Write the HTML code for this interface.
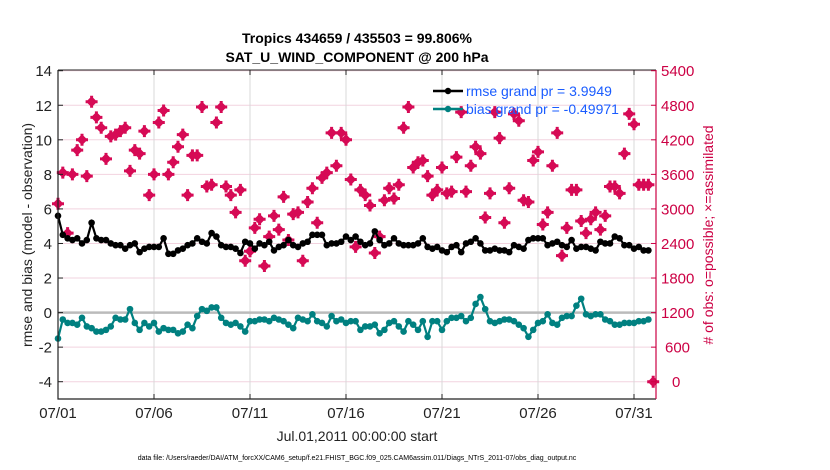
<!DOCTYPE html>
<html><head><meta charset="utf-8"><style>
body{margin:0;background:#fff;}
svg{display:block;font-family:"Liberation Sans",sans-serif;}
</style></head><body>
<svg id="chart" width="830" height="470" viewBox="0 0 830 470" xmlns="http://www.w3.org/2000/svg">
<text x="357" y="43" text-anchor="middle" font-size="14" font-weight="bold">Tropics 434659 / 435503 = 99.806%</text>
<text x="357" y="62" text-anchor="middle" font-size="14" font-weight="bold">SAT_U_WIND_COMPONENT @ 200 hPa</text>
<g id="grid"></g>
<g id="marks"></g>
<g id="axes"></g>
<text transform="translate(32,235) rotate(-90)" text-anchor="middle" font-size="14" fill="#222">rmse and bias (model - observation)</text>
<text transform="translate(713,235) rotate(-90)" text-anchor="middle" font-size="14" fill="#cc0044"># of obs: o=possible; ×=assimilated</text>
<text x="357" y="441" text-anchor="middle" font-size="14" fill="#222">Jul.01,2011 00:00:00 start</text>
<text x="357" y="460" text-anchor="middle" font-size="7" fill="#000">data file: /Users/raeder/DAI/ATM_forcXX/CAM6_setup/f.e21.FHIST_BGC.f09_025.CAM6assim.011/Diags_NTrS_2011-07/obs_diag_output.nc</text>
<g>
<line x1="433" y1="91" x2="463" y2="91" stroke="#000" stroke-width="2.5"/><circle cx="448" cy="91" r="3.2" fill="#000"/>
<text x="466" y="96" font-size="14" fill="#1a5cff">rmse grand pr = 3.9949</text>
<line x1="433" y1="109" x2="463" y2="109" stroke="#008080" stroke-width="2.5"/><circle cx="448" cy="109" r="3.2" fill="#008080"/>
<text x="466" y="114" font-size="14" fill="#1a5cff">bias grand pr = -0.49971</text>
</g>
</svg>
<script>
const rmse=[5.6,4.5,4.3,4.2,4.3,4.0,4.2,5.2,4.3,4.2,4.2,4.0,3.9,3.9,3.7,3.9,4.0,3.5,3.7,3.8,3.8,3.8,4.3,3.4,3.4,3.6,3.7,3.9,4.0,4.3,4.1,
4.0,4.6,4.4,3.9,3.8,3.8,3.7,3.45,4.1,4.0,3.7,4.0,3.9,4.1,3.6,3.8,3.9,4.2,3.9,3.8,4.0,4.1,4.5,4.5,4.5,3.9,4.0,4.0,4.1,4.4,
4.2,4.4,4.1,3.9,4.0,4.7,4.2,3.9,4.0,4.3,4.0,3.9,3.9,3.9,4.0,4.3,3.8,3.7,3.8,3.6,3.5,3.8,3.9,3.5,4.0,4.1,4.3,4.0,3.6,3.6,3.7,
3.6,3.6,3.5,3.9,3.8,3.7,4.2,4.3,4.3,4.3,3.9,4.0,4.1,3.9,3.8,4.2,3.7,3.8,3.8,3.7,3.6,4.1,4.0,4.0,4.4,4.3,3.9,3.9,3.7,3.8,3.6,3.6];
const bias=[-1.5,-0.4,-0.6,-0.6,-0.7,-0.3,-0.8,-0.9,-1.1,-1.1,-1.0,-0.8,-0.3,-0.4,-0.4,0.2,-0.6,-1.0,-0.6,-0.8,-0.6,-1.1,-0.9,-1.0,-1.0,-1.2,-1.1,-0.7,-0.9,-0.2,0.2,
0.1,0.3,0.3,-0.3,-0.6,-0.7,-0.6,-0.8,-1.1,-0.5,-0.5,-0.4,-0.4,-0.5,-0.3,-0.4,-0.5,-0.7,-0.9,-0.3,-0.4,-0.5,-0.1,-0.5,-0.6,-0.8,-0.2,-0.5,-0.4,-0.6,
-0.5,-0.5,-1.0,-0.8,-0.8,-0.7,-1.2,-1.0,-0.6,-0.5,-0.8,-1.1,-0.5,-0.7,-1.0,-0.5,-1.4,-0.5,-0.5,-1.0,-0.5,-0.3,-0.3,-0.2,-0.5,-0.3,0.5,0.9,0.2,-0.5,-0.6,
-0.5,-0.4,-0.4,-0.5,-0.7,-0.9,-1.4,-1.0,-0.6,-0.5,-0.1,-0.6,-0.7,-0.3,-0.2,-0.2,0.4,0.8,-0.1,-0.2,-0.1,-0.1,-0.4,-0.5,-0.7,-0.7,-0.6,-0.6,-0.6,-0.5,-0.5,-0.4];
const obsCount=[3090,3630,2580,3600,4020,4200,3570,4860,4590,4410,3870,4260,4290,4350,4410,3660,4020,3960,4350,3240,3600,4500,4710,3600,3810,4080,4290,3240,3930,3930,
4770,3390,3420,4500,4770,3390,3240,2940,3330,2100,2265,2670,2820,2010,2520,2880,2640,3210,2460,2910,2940,2100,3120,3360,2760,3540,3630,4320,3750,4320,
4200,3510,2340,3330,3240,3060,2235,2520,3150,3360,3180,3420,4410,4770,3720,3810,3840,3570,3240,3330,3720,3270,3300,3900,4680,3300,3750,4080,3960,2850,
3270,4680,4230,2760,3360,4650,4530,3150,3120,3840,3990,2730,2940,3750,4320,2190,2670,3330,3330,2790,2580,2820,2940,2640,2880,3390,3390,3270,3960,4650,
4470,3420,3420,3420,0];
const xTickLabels=["07/01","07/06","07/11","07/16","07/21","07/26","07/31"];
const leftTicks=[-4,-2,0,2,4,6,8,10,12,14];
const rightTicks=[0,600,1200,1800,2400,3000,3600,4200,4800,5400];
const NS="http://www.w3.org/2000/svg";
const L=58,R=656,T=70.7,B=381.7;
const dayPx=19.2;
const xDay=d=>L+d*dayPx;
const xIdx=i=>xDay(i*0.25);
const yL=v=>B-(v+4)*(B-T)/18;
const yR=c=>yL(c/300-4);
function mk(tag,attrs,parent){const e=document.createElementNS(NS,tag);for(const k in attrs)e.setAttribute(k,attrs[k]);parent.appendChild(e);return e;}
const gridG=document.getElementById('grid'),marksG=document.getElementById('marks'),axesG=document.getElementById('axes');
leftTicks.forEach(v=>{const l=mk('line',{x1:L,x2:R,y1:yL(v),y2:yL(v),stroke:'#f2d3df','stroke-width':1},gridG);

});
xTickLabels.forEach((t,k)=>{const x=xDay(k*5);const l=mk('line',{x1:x,x2:x,y1:70,y2:399,stroke:'#d8d8d8','stroke-width':1},gridG);

});
const zl=mk('line',{x1:L,x2:R,y1:yL(0),y2:yL(0),stroke:'#bbb','stroke-width':2.5},gridG);


obsCount.forEach((c,i)=>{const x=xIdx(i),y=yR(c);const g=mk('path',{d:`M${x-5.5},${y}L${x},${y-5.5}L${x+5.5},${y}L${x},${y+5.5}Z M${x-6},${y-1.5}h12v3h-12Z M${x-1.5},${y-6}h3v12h-3Z`,fill:'#d60a55'},marksG);

});
function series(arr,color,name){const pts=arr.map((v,i)=>xIdx(i)+','+yL(v)).join(' ');
const pl=mk('polyline',{points:pts,fill:'none',stroke:color,'stroke-width':2.2},marksG);


arr.forEach((v,i)=>{const c=mk('circle',{cx:xIdx(i),cy:yL(v),r:3.3,fill:color},marksG);

});}
series(rmse,'#000','rmse');
series(bias,'#008080','bias');
const frame=mk('path',{d:`M${L},70V399H${R}`,fill:'none',stroke:'#222','stroke-width':1.2},axesG);


const topBorder=mk('line',{x1:L,x2:R,y1:70,y2:70,stroke:'#222','stroke-width':1},axesG);


const ra=mk('line',{x1:R,x2:R,y1:70,y2:399,stroke:'#cc0044','stroke-width':1.2},axesG);


leftTicks.forEach(v=>{const y=yL(v);mk('line',{x1:L,x2:L+5,y1:y,y2:y,stroke:'#222'},axesG);
const t=mk('text',{x:L-6,y:y+5.5,'text-anchor':'end','font-size':15,fill:'#222'},axesG);t.textContent=v;

});
rightTicks.forEach(c=>{const y=yR(c);mk('line',{x1:R,x2:R-5,y1:y,y2:y,stroke:'#cc0044'},axesG);
const t=mk('text',{x:c===0?R+16:(c<1000?R+9:R+5),y:y+5.5,'text-anchor':'start','font-size':15,fill:'#cc0044'},axesG);t.textContent=c;

});
xTickLabels.forEach((s,k)=>{const x=xDay(k*5);mk('line',{x1:x,x2:x,y1:399,y2:394,stroke:'#222'},axesG);mk('line',{x1:x,x2:x,y1:70,y2:75,stroke:'#222'},axesG);
const t=mk('text',{x:x,y:418,'text-anchor':'middle','font-size':15,fill:'#222'},axesG);t.textContent=s;

});
</script>
</body></html>
